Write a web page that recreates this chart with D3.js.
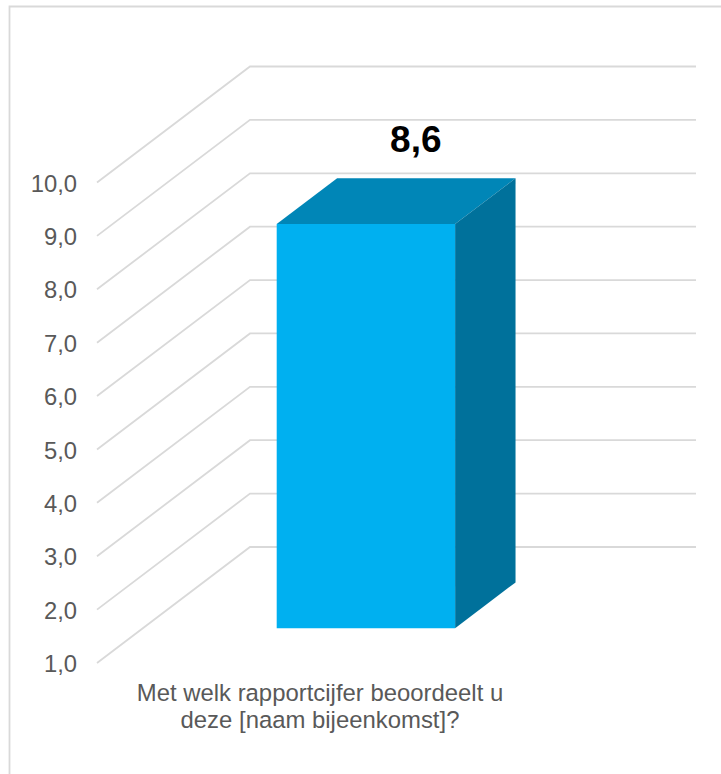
<!DOCTYPE html>
<html><head><meta charset="utf-8">
<script src="https://cdn.jsdelivr.net/npm/d3@7/dist/d3.min.js"></script>
<style>html,body{margin:0;padding:0;background:#fff}svg{display:block}text{font-family:"Liberation Sans",Arial,sans-serif}</style>
</head><body><svg id="c" width="721" height="774"></svg>
<script>
const categories = ["Met welk rapportcijfer beoordeelt u|deze [naam bijeenkomst]?"];
const values = [8.57];
const valueLabels = ["8,6"];
const ticks = [1,2,3,4,5,6,7,8,9,10];

const W=721,H=774;
const svg=d3.select("#c");
const y=d3.scaleLinear().domain([1,10]).range([663,182.5]);
const depth=d3.scaleLinear().domain([0,1]);
const dx=depth.copy().range([0,153]), dy=depth.copy().range([0,-116]);
const x=d3.scaleBand().domain(categories).range([97,543]);
const fmt=d=>d.toFixed(1).replace(".",",");

// chart frame
svg.append("path").attr("d",`M9.5,${H}V6.5H${W}`).attr("fill","none").attr("stroke","#d9d9d9").attr("stroke-width",1.8);

// gridlines on side wall and back wall
const right=696;
svg.append("g").selectAll("path").data(ticks).join("path")
 .attr("d",t=>d3.line()([[x.range()[0],y(t)],[x.range()[0]+dx(1),y(t)+dy(1)],[right,y(t)+dy(1)]]))
 .attr("fill","none").attr("stroke","#d9d9d9").attr("stroke-width",1.8);

// value axis labels
const ax=svg.append("g").attr("transform","translate(85,0)")
 .call(d3.axisLeft(y).tickValues(ticks).tickSize(0).tickPadding(8).tickFormat(fmt));
ax.select(".domain").remove();
ax.attr("font-family",null);
ax.selectAll("text").attr("font-size",23.8).attr("fill","#595959").attr("dy","0.36em");

// 3D bar
const d0=0.3, d1=0.695;
categories.forEach((c,i)=>{
  const v=values[i];
  const x0=x(c)+x.bandwidth()*0.3, x1=x(c)+x.bandwidth()*0.7;
  const f=(px,val,d)=>[px+dx(d),y(val)+dy(d)];
  const a=f(x0,v,d0),b=f(x1,v,d0),c2=f(x1,1,d0),e=f(x0,1,d0),
        a2=f(x0,v,d1),b2=f(x1,v,d1),c3=f(x1,1,d1);
  const g=svg.append("g");
  const poly=(pts,col)=>g.append("path").attr("d",d3.line()(pts)+"Z").attr("fill",col);
  poly([a,a2,b2,b],"#0086B7");
  poly([b,b2,c3,c2],"#00719B");
  poly([a,b,c2,e],"#00B0F0");
  svg.append("text").attr("x",(a2[0]+b2[0])/2-10.5).attr("y",y(v)+dy(d1)-26.5)
   .attr("text-anchor","middle").attr("font-size",37).attr("font-weight","bold").attr("fill","#000").text(valueLabels[i]);
  const lines=c.split("|");
  svg.append("g").selectAll("text").data(lines).join("text")
   .attr("x",320).attr("y",(l,j)=>700.5+j*27).attr("text-anchor","middle")
   .attr("font-size",23.9).attr("fill","#595959").text(l=>l);
});
</script></body></html>
